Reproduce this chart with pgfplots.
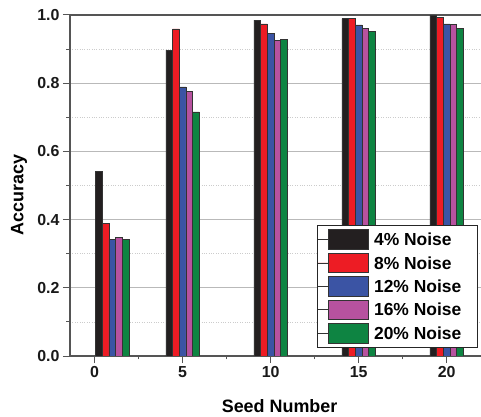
\documentclass[border=0pt]{standalone}
\usepackage{pgfplots}
\pgfplotsset{compat=1.18}
\usepackage{fontspec}
\setmainfont{Liberation Sans}
\definecolor{cblack}{HTML}{231F20}
\definecolor{cred}{HTML}{ED1C24}
\definecolor{cblue}{HTML}{3B54A4}
\definecolor{cmag}{HTML}{B7529F}
\definecolor{cgreen}{HTML}{0E8442}
\definecolor{spine}{HTML}{555555}
\begin{document}
\begin{tikzpicture}
\useasboundingbox (0,0) rectangle (481bp,417bp);
\begin{axis}[
  at={(70bp,61bp)}, anchor=south west,
  scale only axis, width=411bp, height=341bp,
  xmin=-1.4, xmax=21.95, ymin=0, ymax=1,
  axis y line*=left,
  xtick pos=left, ytick pos=left,
  xtick={0,5,10,15,20},
  minor xtick={2.5,7.5,12.5,17.5},
  ytick={0,0.2,0.4,0.6,0.8,1.0},
  minor ytick={0.1,0.3,0.5,0.7,0.9},
  yticklabel style={/pgf/number format/.cd,fixed,fixed zerofill,precision=1},
  /pgf/number format/assume math mode=true,
  ticklabel style={font=\bfseries\fontsize{16}{19}\selectfont, text=black!90},
  tick align=outside,
  major tick length=7bp, minor tick length=3.5bp,
  tick style={spine, line width=1bp},
  axis line style={spine, line width=1.3bp},
  ymajorgrids, yminorgrids,
  major grid style={color=gray!55, line width=0.7bp},
  minor grid style={color=gray!40, dotted, line width=0.7bp},
  xlabel={Seed Number}, ylabel={Accuracy},
  xlabel style={at={(axis description cs:0.51,-0.166)}, anchor=base, font=\bfseries\fontsize{18}{21}\selectfont},
  ylabel style={at={(axis description cs:-0.1136,0.472)}, anchor=base, font=\bfseries\fontsize{18}{21}\selectfont},
  mybar/.style={ybar, bar width=0.38, draw=black!80, line width=0.6bp,
    legend image code/.code={\path (-10bp,0) -- (40bp,0);
      \draw[##1] (0bp,-9.75bp) rectangle (40bp,9.75bp);}},
  legend cell align=left,
  legend style={at={(axis description cs:0.992,0.024)}, anchor=south east,
    draw=black!85, line width=0.8bp, fill=white,
    font=\bfseries\fontsize{17.5}{20}\selectfont,
    inner xsep=0pt, inner ysep=4.3bp, row sep=3.3bp, column sep=6bp,
    nodes={inner sep=0pt, text depth=0pt}},
]
\addplot[mybar, bar shift=-0.76, fill=cblack] coordinates {(1,0.541)(5,0.897)(10,0.985)(15,0.989)(20,0.999)};
\addlegendentry{4\% Noise\hspace*{16bp}}
\addplot[mybar, bar shift=-0.38, fill=cred] coordinates {(1,0.390)(5,0.959)(10,0.974)(15,0.989)(20,0.993)};
\addlegendentry{8\% Noise\hspace*{16bp}}
\addplot[mybar, bar shift=0, fill=cblue] coordinates {(1,0.342)(5,0.789)(10,0.946)(15,0.971)(20,0.974)};
\addlegendentry{12\% Noise\hspace*{16bp}}
\addplot[mybar, bar shift=0.38, fill=cmag] coordinates {(1,0.348)(5,0.775)(10,0.925)(15,0.961)(20,0.972)};
\addlegendentry{16\% Noise\hspace*{16bp}}
\addplot[mybar, bar shift=0.76, fill=cgreen] coordinates {(1,0.342)(5,0.716)(10,0.929)(15,0.953)(20,0.960)};
\addlegendentry{20\% Noise\hspace*{16bp}}
\end{axis}
\end{tikzpicture}
\end{document}
